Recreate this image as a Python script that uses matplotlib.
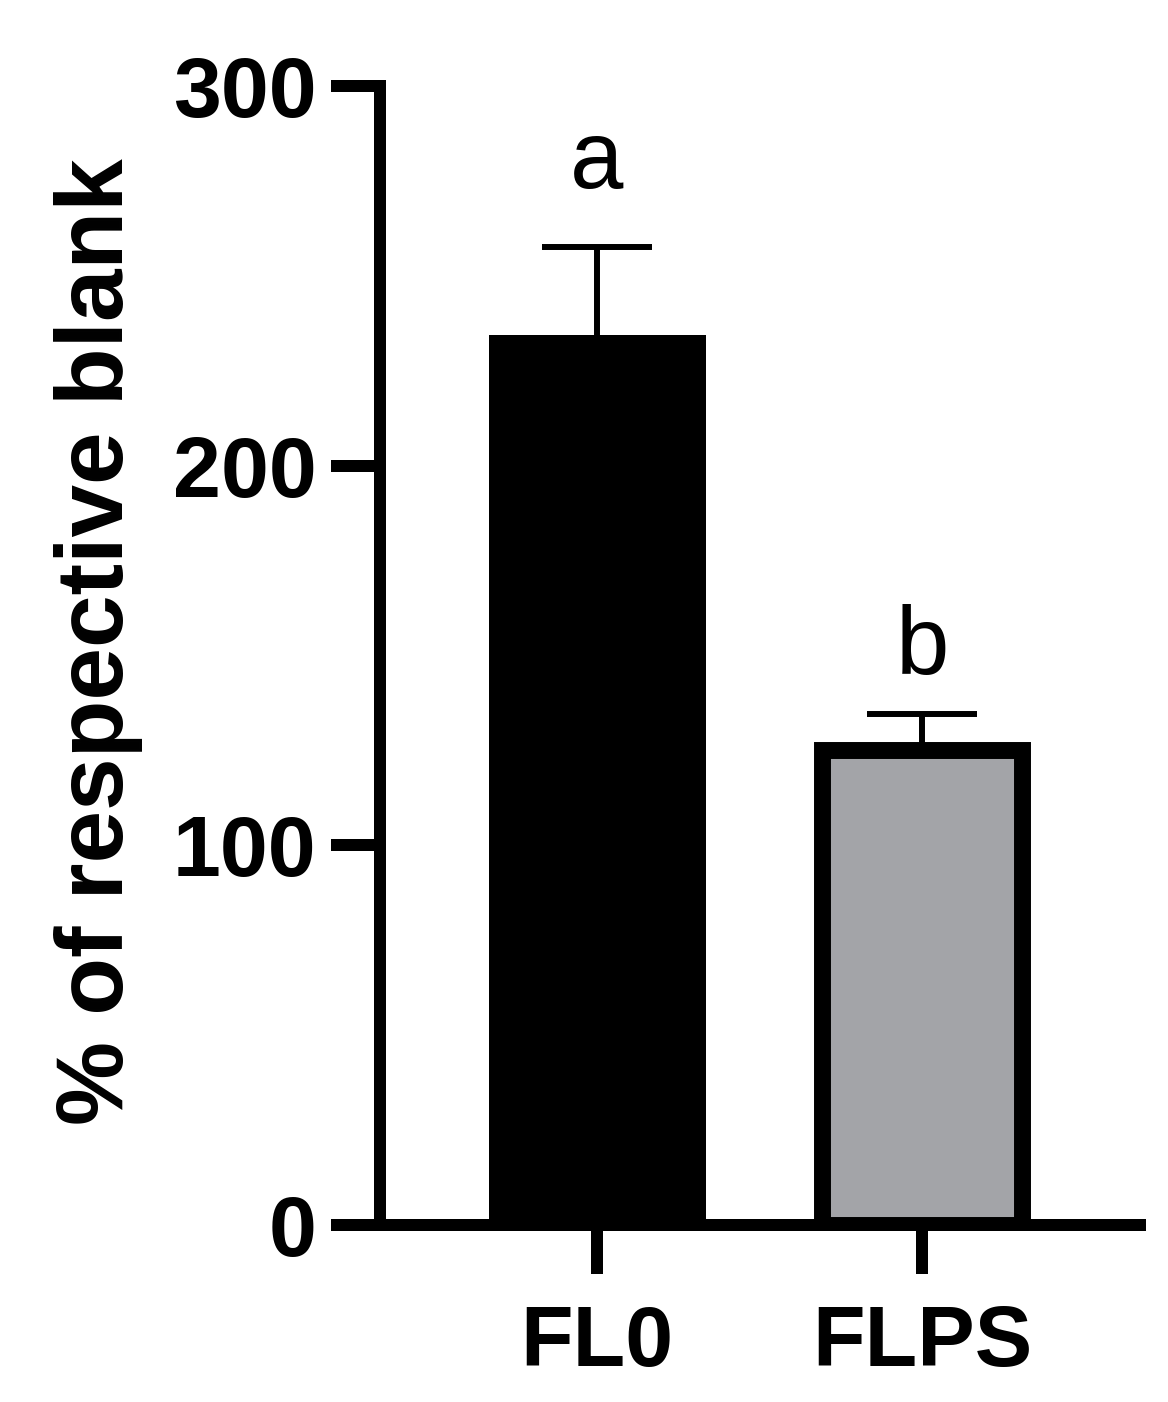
import matplotlib
matplotlib.use("Agg")
import matplotlib.pyplot as plt
import numpy as np

categories = ["FL0", "FLPS"]
means = [234.4, 125.1]
errors = [23.2, 9.4]
letters = ["a", "b"]
letter_y = [273.1, 145.1]
yticks = [0, 100, 200, 300]

plt.rcParams['font.family'] = ['Liberation Sans', 'DejaVu Sans']

fig = plt.figure(figsize=(11.68, 14.02), dpi=100)
W, H = 1168, 1402
x0, x1 = 380, 1140
y0, y1 = 1225, 86
ax = fig.add_axes([x0 / W, 1 - y0 / H, (x1 - x0) / W, (y0 - y1) / H])

xpos = np.arange(len(categories))
lw = 8.64
ax.bar(xpos[0], means[0], width=0.668, color='black', edgecolor='black', linewidth=0, zorder=3)
ax.bar(xpos[1], means[1], width=0.615, color='#A3A4A8', edgecolor='black', linewidth=12.2, zorder=3)

eb = ax.errorbar(xpos, means, yerr=[np.zeros(len(means)), errors], fmt='none', ecolor='black',
                 elinewidth=4.3, capsize=39.6, capthick=4.3, zorder=2)
for cap in eb[1]:
    if np.allclose(cap.get_ydata(), means):
        cap.set_visible(False)

for x, t, ly in zip(xpos, letters, letter_y):
    ax.text(x, ly, t, ha='center', va='baseline', fontsize=69, fontweight='normal')

ax.set_xlim(-0.668, 1.671)
ax.set_ylim(0, 300)
ax.set_yticks(yticks)
ax.set_yticklabels([str(v) for v in yticks])
ax.set_xticks(xpos)
ax.set_xticklabels(categories)

for s in ['top', 'right']:
    ax.spines[s].set_visible(False)
for s in ['left', 'bottom']:
    ax.spines[s].set_linewidth(lw)
    ax.spines[s].set_capstyle('projecting')

ax.tick_params(axis='both', length=35, width=lw, direction='out', color='black')
ax.tick_params(axis='y', pad=10.8)
ax.tick_params(axis='x', pad=21.6)
for lab in ax.get_xticklabels() + ax.get_yticklabels():
    lab.set_fontsize(62)
    lab.set_fontweight('bold')

ax.set_ylabel("% of respective blank", fontsize=68, fontweight='bold')
ax.yaxis.set_label_coords((143 - x0) / (x1 - x0), (y0 - 641.5) / (y0 - y1))

fig.savefig("out.png", dpi=100)
